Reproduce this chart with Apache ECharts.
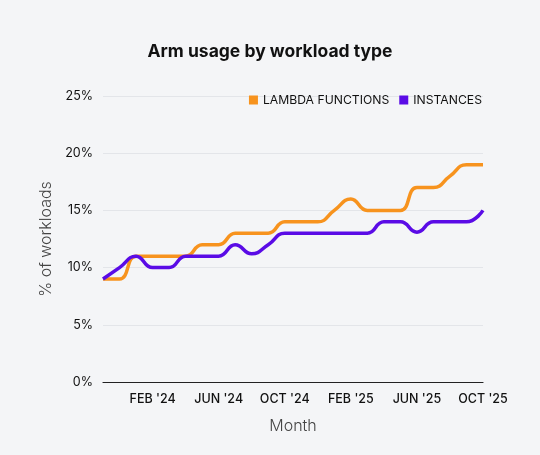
<!DOCTYPE html>
<html>
<head>
<meta charset="utf-8">
<script src="https://cdn.jsdelivr.net/npm/echarts@6/dist/echarts.min.js"></script>
<style>
  html, body { margin: 0; padding: 0; background: #f4f5f7; }
  #chart { width: 540px; height: 455px; }
</style>
</head>
<body>
<div id="chart"></div>
<script>
// months Nov '23 .. Oct '25
const months = ["NOV '23", "DEC '23", "JAN '24", "FEB '24", "MAR '24", "APR '24", "MAY '24", "JUN '24",
  "JUL '24", "AUG '24", "SEP '24", "OCT '24", "NOV '24", "DEC '24", "JAN '25", "FEB '25",
  "MAR '25", "APR '25", "MAY '25", "JUN '25", "JUL '25", "AUG '25", "SEP '25", "OCT '25"];
const lambdaFunctions = [9, 9, 11, 11, 11, 11, 12, 12, 13, 13, 13, 14, 14, 14, 15, 16, 15, 15, 15, 17, 17, 18, 19, 19];
const instances = [9, 10, 11, 10, 10, 11, 11, 11, 12, 11.2, 12, 13, 13, 13, 13, 13, 13, 14, 14, 13.1, 14, 14, 14, 15];
const yTicks = [0, 5, 10, 15, 20, 25];

const chart = echarts.init(document.getElementById('chart'));

const font = 'Inter, "Noto Sans", sans-serif';

chart.setOption({
  backgroundColor: '#f4f5f7',
  color: ['#f7931e', '#5a0be6'],
  title: {
    text: 'Arm usage by workload type',
    left: 'center',
    top: 38,
    textStyle: { fontFamily: font, fontSize: 17.5, fontWeight: 'bold', color: '#111' }
  },
  legend: {
    right: 53,
    top: 89,
    icon: 'rect',
    itemWidth: 9,
    itemHeight: 9,
    itemGap: 10,
    textStyle: { fontFamily: font, fontSize: 12.2, color: '#111' },
    data: ['LAMBDA FUNCTIONS', 'INSTANCES']
  },
  grid: { left: 103, right: 57, top: 96, bottom: 73 },
  xAxis: {
    type: 'category',
    data: months,
    boundaryGap: false,
    name: 'Month',
    nameLocation: 'middle',
    nameGap: 36,
    nameTextStyle: { fontFamily: font, fontSize: 16, color: '#444', fontWeight: 300 },
    axisLine: { lineStyle: { color: '#222', width: 1.2 } },
    axisTick: { show: false },
    axisLabel: {
      interval: (i) => (i - 3) % 4 === 0,
      margin: 11,
      fontFamily: font,
      fontSize: 12.5,
      fontWeight: 500,
      color: '#111'
    },
    splitLine: { show: false }
  },
  yAxis: {
    type: 'value',
    min: yTicks[0],
    max: yTicks[yTicks.length - 1],
    interval: 5,
    name: '% of workloads',
    nameLocation: 'middle',
    nameRotate: 90,
    nameGap: 47,
    nameTextStyle: { fontFamily: font, fontSize: 16, color: '#444', fontWeight: 300 },
    axisLine: { show: false },
    axisTick: { show: false },
    axisLabel: {
      formatter: '{value}%',
      margin: 10,
      fontFamily: font,
      fontSize: 12.5,
      color: '#111'
    },
    splitLine: { lineStyle: { color: '#e3e5e9', width: 1 } }
  },
  series: [
    {
      name: 'LAMBDA FUNCTIONS',
      type: 'line',
      data: lambdaFunctions,
      smooth: 0.5,
      symbol: 'none',
      lineStyle: { width: 3.5 }
    },
    {
      name: 'INSTANCES',
      type: 'line',
      data: instances,
      smooth: 0.5,
      symbol: 'none',
      lineStyle: { width: 3.5 }
    }
  ]
});
</script>
</body>
</html>
